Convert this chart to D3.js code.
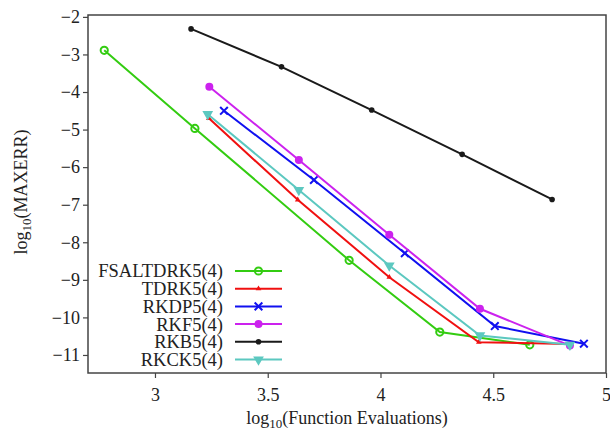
<!DOCTYPE html>
<html>
<head>
<meta charset="utf-8">
<script src="https://cdn.jsdelivr.net/npm/d3@7"></script>
<style>
  body { margin: 0; background: #fff; }
  svg text { font-family: "Liberation Serif", "DejaVu Serif", serif; fill: #222; }
</style>
</head>
<body>
<div id="root"></div>
<script>
// series names, colours and marker types
const names = ['FSALTDRK5(4)', 'TDRK5(4)', 'RKDP5(4)', 'RKF5(4)', 'RKB5(4)', 'RKCK5(4)'];
const colors = ['#33cc11', '#f01010', '#1010f0', '#cc22ee', '#1a1a1a', '#5cc8c0'];
const markers = ['ocircle', 'triup', 'cross', 'dot', 'smalldot', 'tridown'];

// log10(function evaluations) per series
const xFSAL = [2.775, 3.177, 3.861, 4.263, 4.662];
const xTDRK = [3.239, 3.633, 4.039, 4.436, 4.840];
const xRKDP = [3.306, 3.705, 4.108, 4.507, 4.902];
const xRKF = [3.241, 3.638, 4.039, 4.441, 4.840];
const xRKB = [3.160, 3.561, 3.961, 4.362, 4.761];
const xRKCK = [3.234, 3.638, 4.039, 4.441, 4.840];

// log10(MAXERR) per series
const yFSAL = [-2.89, -4.97, -8.48, -10.39, -10.73];
const yTDRK = [-4.70, -6.87, -8.93, -10.66, -10.71];
const yRKDP = [-4.50, -6.34, -8.29, -10.23, -10.70];
const yRKF = [-3.86, -5.81, -7.80, -9.77, -10.75];
const yRKB = [-2.32, -3.33, -4.48, -5.66, -6.86];
const yRKCK = [-4.59, -6.61, -8.62, -10.48, -10.73];

const xTicks = [3, 3.5, 4, 4.5, 5];
const yTicks = [-2, -3, -4, -5, -6, -7, -8, -9, -10, -11];

const xs = [xFSAL, xTDRK, xRKDP, xRKF, xRKB, xRKCK];
const ys = [yFSAL, yTDRK, yRKDP, yRKF, yRKB, yRKCK];

const width = 610, height = 432;
const margin = { left: 88, right: 4, top: 15, bottom: 59 };

const svg = d3.select('#root').append('svg')
  .attr('width', width)
  .attr('height', height);

const x = d3.scaleLinear().domain([2.703, 5]).range([margin.left, width - margin.right]);
const y = d3.scaleLinear().domain([-11.48, -1.95]).range([height - margin.bottom, margin.top]);

// axes
const xAxis = svg.append('g')
  .attr('transform', `translate(0,${height - margin.bottom})`)
  .call(d3.axisBottom(x).tickValues(xTicks).tickSize(5).tickPadding(10).tickFormat(d3.format('')));
const yAxis = svg.append('g')
  .attr('transform', `translate(${margin.left},0)`)
  .call(d3.axisLeft(y).tickValues(yTicks).tickSize(5).tickPadding(3).tickFormat(d => '\u2212' + Math.abs(d)));

[xAxis, yAxis].forEach(a => {
  a.select('.domain').remove();
  a.selectAll('line').attr('stroke', '#444').attr('stroke-width', 1.2);
  a.selectAll('text').style('font-size', '18px').attr('fill', '#222');
});

// frame
svg.append('rect')
  .attr('x', margin.left)
  .attr('y', margin.top)
  .attr('width', width - margin.left - margin.right)
  .attr('height', height - margin.top - margin.bottom)
  .attr('fill', 'none')
  .attr('stroke', '#444')
  .attr('stroke-width', 1.5);

function drawMarker(g, type, cx, cy, color) {
  if (type === 'ocircle') {
    g.append('circle').attr('cx', cx).attr('cy', cy).attr('r', 3.6)
      .attr('fill', 'none').attr('stroke', color).attr('stroke-width', 2);
  } else if (type === 'triup') {
    g.append('path').attr('d', d3.symbol(d3.symbolTriangle, 14)())
      .attr('transform', `translate(${cx},${cy})`).attr('fill', color);
  } else if (type === 'cross') {
    g.append('path').attr('d', d3.symbol(d3.symbolTimes, 40)())
      .attr('transform', `translate(${cx},${cy})`).attr('fill', 'none')
      .attr('stroke', color).attr('stroke-width', 2);
  } else if (type === 'dot') {
    g.append('circle').attr('cx', cx).attr('cy', cy).attr('r', 4).attr('fill', color);
  } else if (type === 'smalldot') {
    g.append('circle').attr('cx', cx).attr('cy', cy).attr('r', 2.8).attr('fill', color);
  } else if (type === 'tridown') {
    g.append('path').attr('d', d3.symbol(d3.symbolTriangle, 50)())
      .attr('transform', `translate(${cx},${cy}) rotate(180)`).attr('fill', color);
  }
}

const line = d3.line().x(d => x(d[0])).y(d => y(d[1]));

// series
names.forEach((name, i) => {
  const pts = xs[i].map((v, j) => [v, ys[i][j]]);
  const g = svg.append('g').attr('class', 'series');
  g.append('path')
    .attr('d', line(pts))
    .attr('fill', 'none')
    .attr('stroke', colors[i])
    .attr('stroke-width', 2);
  pts.forEach(p => drawMarker(g, markers[i], x(p[0]), y(p[1]), colors[i]));
});

// legend
const legend = svg.append('g');
names.forEach((name, i) => {
  const ly = 271 + i * 17.7;
  legend.append('text')
    .attr('x', 223)
    .attr('y', ly)
    .attr('dy', '0.35em')
    .attr('text-anchor', 'end')
    .style('font-size', '18.5px')
    .text(name);
  legend.append('line')
    .attr('x1', 235).attr('x2', 282)
    .attr('y1', ly).attr('y2', ly)
    .attr('stroke', colors[i]).attr('stroke-width', 2);
  drawMarker(legend, markers[i], 258.5, ly, colors[i]);
});

// axis titles
const xt = svg.append('text')
  .attr('x', 347)
  .attr('y', 424)
  .attr('text-anchor', 'middle')
  .style('font-size', '18px');
xt.append('tspan').text('log');
xt.append('tspan').attr('dy', 4).style('font-size', '13px').text('10');
xt.append('tspan').attr('dy', -4).text('(Function Evaluations)');

const yt = svg.append('text')
  .attr('transform', 'translate(27,192) rotate(-90)')
  .attr('text-anchor', 'middle')
  .style('font-size', '18px');
yt.append('tspan').text('log');
yt.append('tspan').attr('dy', 4).style('font-size', '13px').text('10');
yt.append('tspan').attr('dy', -4).text('(MAXERR)');
</script>
</body>
</html>
